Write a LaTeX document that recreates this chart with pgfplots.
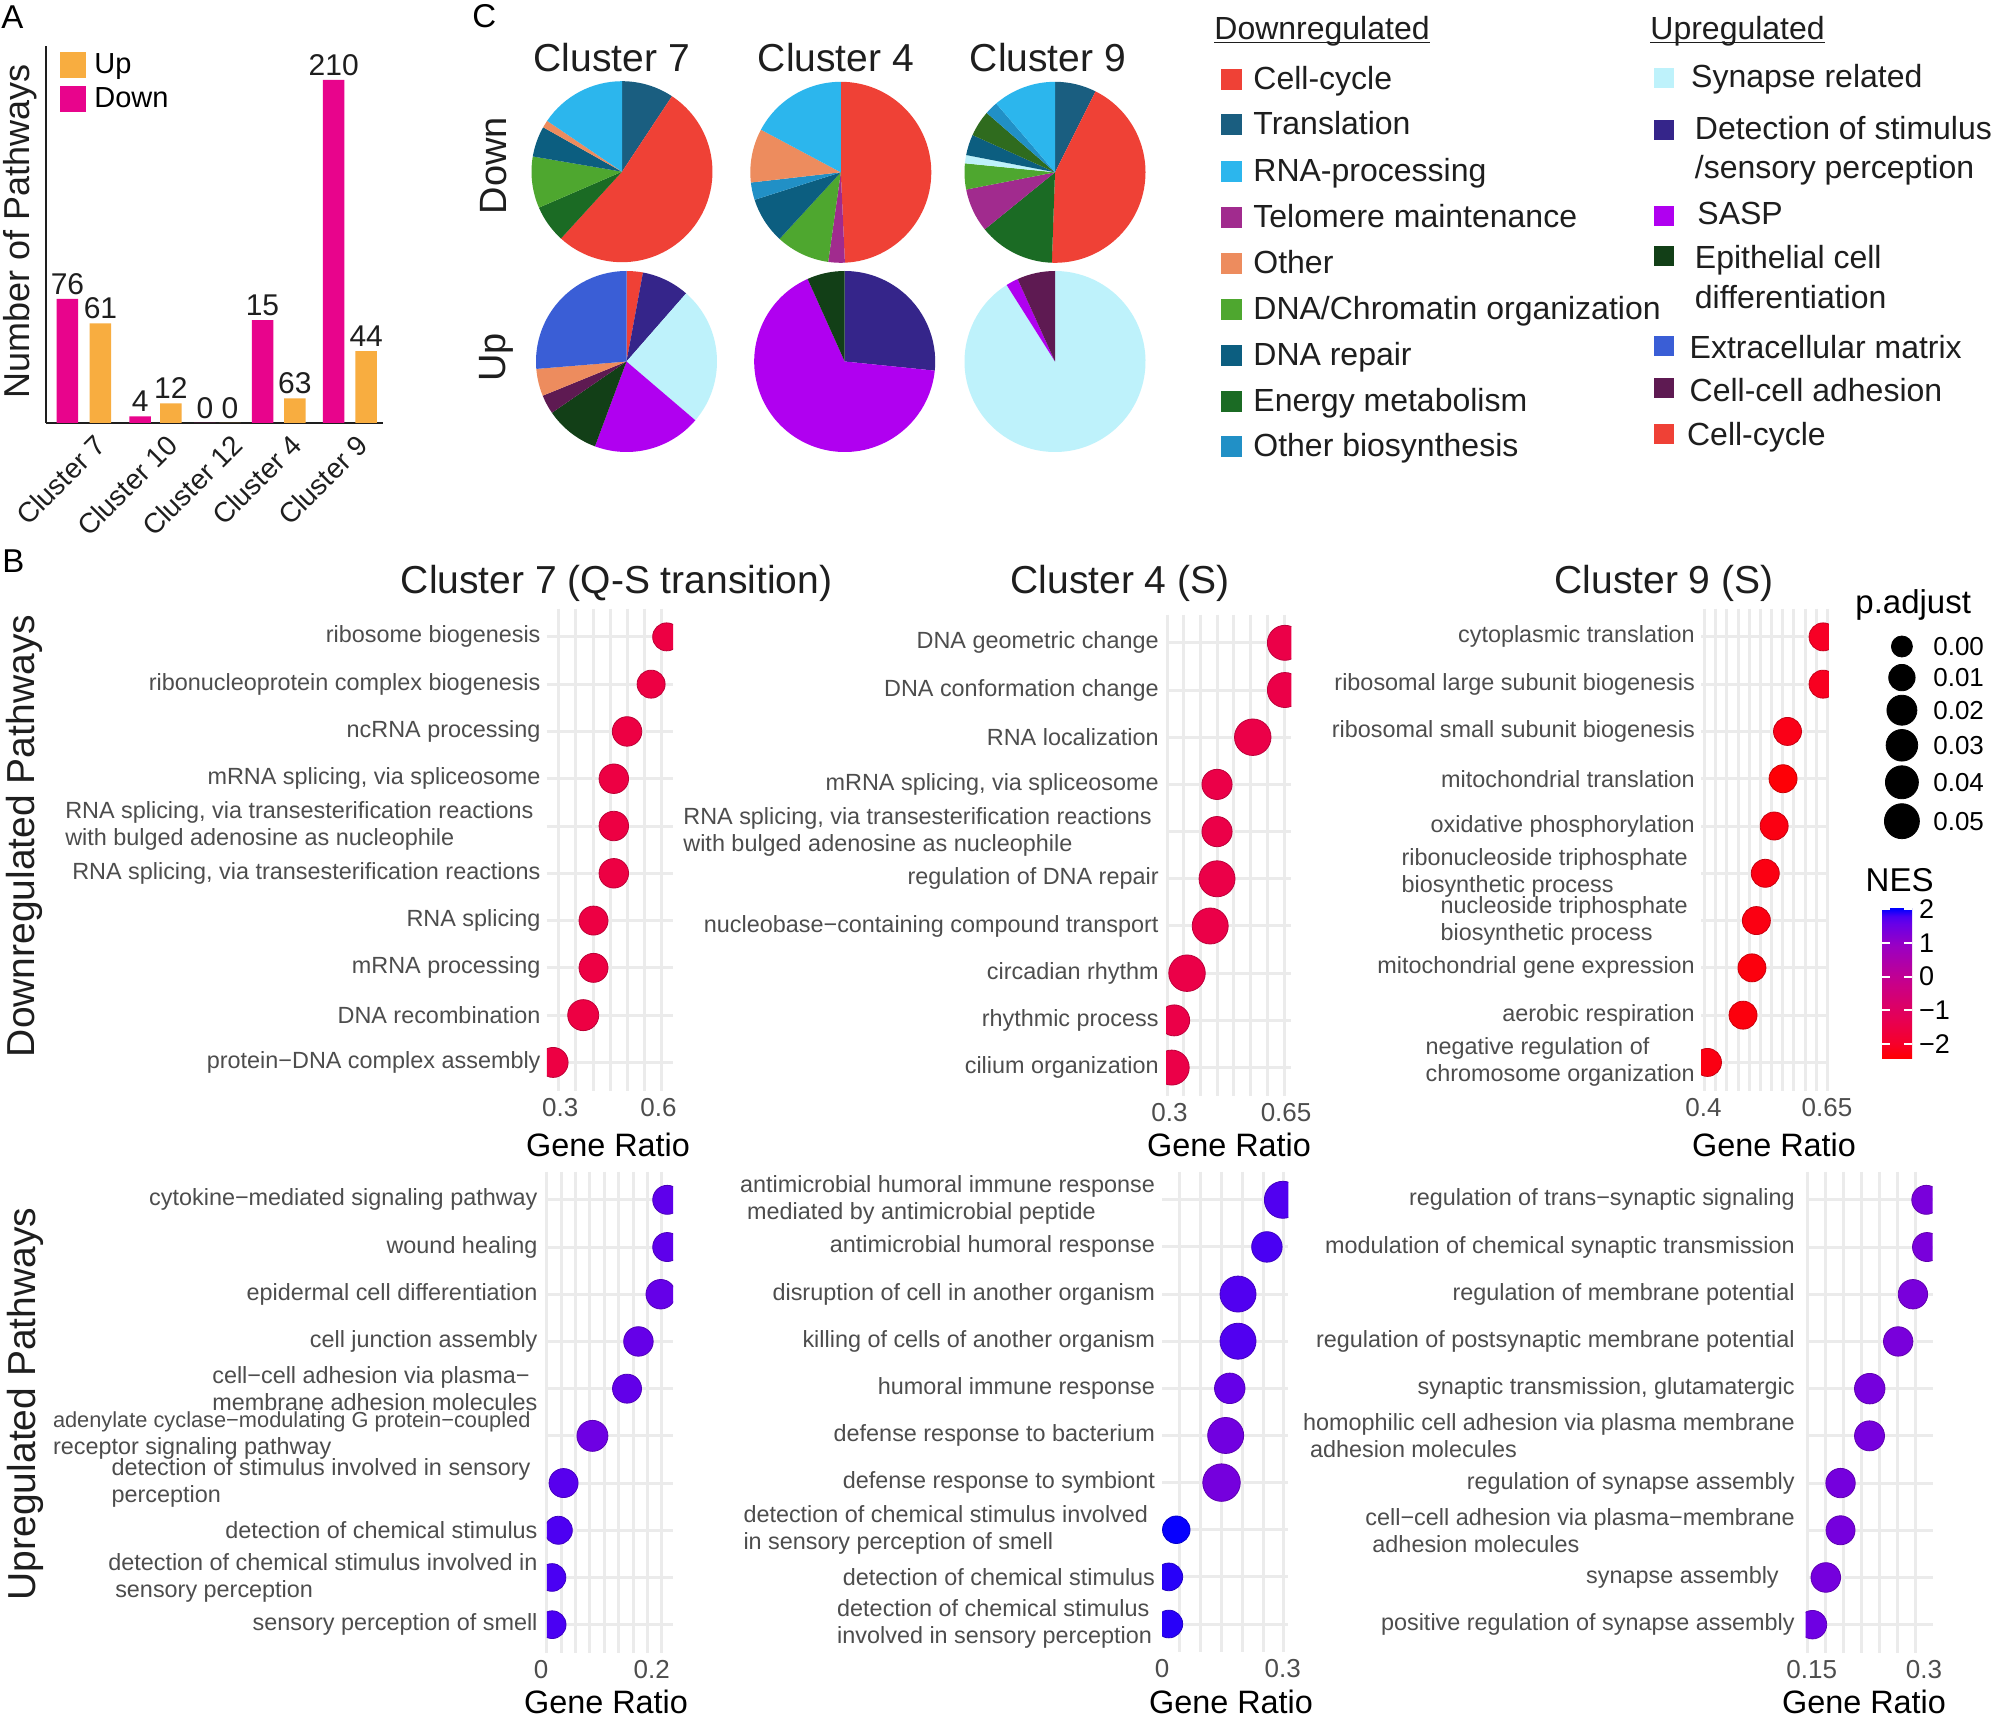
\documentclass[border=0pt]{standalone}
\usepackage{fontspec}
\setmainfont{Liberation Sans}
\usepackage{pgfplots}
\pgfplotsset{compat=1.18}
\usepackage{pgfplotstable}

\definecolor{barpink}{RGB}{232,4,140}
\definecolor{barorange}{RGB}{248,173,64}
\definecolor{gridc}{RGB}{235,235,235}
\definecolor{labc}{RGB}{77,77,77}
\definecolor{txt}{RGB}{30,30,30}
\definecolor{sCC}{RGB}{239,65,54}
\definecolor{sTR}{RGB}{26,94,128}
\definecolor{sRNA}{RGB}{44,182,237}
\definecolor{sTEL}{RGB}{161,43,142}
\definecolor{sOTH}{RGB}{237,140,94}
\definecolor{sCHR}{RGB}{78,167,47}
\definecolor{sREP}{RGB}{12,94,128}
\definecolor{sEN}{RGB}{27,107,36}
\definecolor{sOB}{RGB}{33,144,198}
\definecolor{sSYN}{RGB}{190,242,251}
\definecolor{sDET}{RGB}{53,37,138}
\definecolor{sSASP}{RGB}{176,0,240}
\definecolor{sEPI}{RGB}{18,63,23}
\definecolor{sECM}{RGB}{58,94,214}
\definecolor{sCCA}{RGB}{94,26,82}
\definecolor{sOLV}{RGB}{47,107,30}

\newcommand\fsz[2]{\fontsize{#1}{#2}\selectfont}
\newcommand\ul[1]{\setbox0\hbox{#1}\rlap{\rule[-2.1pt]{\wd0}{0.85pt}}#1}

\pgfdeclareplotmark{pieslice}{%
  \pgfmathsetmacro\sliceS{90-\sliceB}%
  \pgfmathsetmacro\sliceE{90-\sliceA}%
  \pgfsetfillcolor{\sliceC}%
  \pgfpathmoveto{\pgfpointorigin}%
  \pgfpathlineto{\pgfpointpolar{\sliceS}{\pgfplotmarksize}}%
  \pgfpatharc{\sliceS}{\sliceE}{\pgfplotmarksize}%
  \pgfpathclose
  \pgfusepathqfill
}

\pgfdeclareverticalshading{nesshade}{100bp}{rgb(0bp)=(1,0,0); rgb(25bp)=(1,0,0); rgb(30bp)=(0.965,0,0.165); rgb(37.5bp)=(0.91,0,0.314); rgb(50bp)=(0.788,0,0.533); rgb(62.5bp)=(0.608,0,0.761); rgb(70bp)=(0.408,0,0.906); rgb(72.5bp)=(0.294,0,0.953); rgb(75bp)=(0,0,1); rgb(100bp)=(0,0,1)}

\pgfplotsset{
  colormap={nes}{rgb255(0pt)=(255,0,0) rgb255(2pt)=(246,0,42) rgb255(5pt)=(232,0,80) rgb255(10pt)=(201,0,136) rgb255(15pt)=(155,0,194) rgb255(18pt)=(104,0,231) rgb255(19pt)=(75,0,243) rgb255(20pt)=(0,0,255)},
  dotax/.style={
    scale only axis, anchor=north west, y dir=reverse, ymin=0.4, ymax=10.6, ytick={1,...,10},
    enlargelimits=false,
    axis line style={draw=none},
    major tick length=0pt, minor tick length=0pt,
    ymajorgrids=true, xminorgrids=true, xmajorgrids=false,
    minor grid style={gridc, line width=1.5pt},
    major grid style={gridc, line width=1.5pt},
    yticklabel style={font=\fsz{11.7}{13.5}, text=labc, align=left, inner xsep=3pt},
    xticklabel style={font=\fsz{13}{15}, text=labc},
    colormap name=nes, point meta min=-2.44, point meta max=2.02,
    clip marker paths=true,
  },
  dotpts/.style={scatter, only marks, mark=*, point meta=explicit,
    visualization depends on={\thisrow{d}/4 \as \msz},
    scatter/@pre marker code/.append style={/tikz/mark size=\msz}},
  szleg/.style={only marks, mark=*, black, nodes near coords={#1},
    every node near coord/.style={anchor=west, inner sep=0pt, xshift=15.5pt, font=\fsz{13}{15}, text=black}},
}

\begin{document}
\begin{tikzpicture}[x=0.5pt,y=-0.5pt]
\path[use as bounding box] (0,0) rectangle (1999,1716);
\fill[white] (0,0) rectangle (1999,1716);

% ================= Panel A =================
\begin{axis}[at={(22.85pt,-211.45pt)}, anchor=south west, scale only axis,
  width=168.65pt, height=188.55pt,
  xmin=45.7, xmax=383, ymin=0, ymax=230.9,
  axis x line*=bottom, axis y line*=left,
  axis line style={-, line width=0.9pt, txt},
  ytick=\empty, xtick={86,158,223,282,348},
  xticklabels={Cluster 7,Cluster 10,Cluster 12,Cluster 4,Cluster 9},
  xticklabel style={rotate=45, anchor=north east, inner sep=1pt, yshift=-5pt, font=\fsz{14}{16}, text=txt},
  major tick length=0pt,
  ybar, bar shift=0pt, bar width=21.5,
  nodes near coords, point meta=explicit symbolic,
  every node near coord/.append style={font=\fsz{15}{17}, text=txt, inner sep=2pt},
  clip=false,
  reverse legend,
  legend style={at={(0.0424,0.9915)}, anchor=north west, draw=none, fill=none,
    font=\fsz{14.5}{17}, row sep=1.5pt, inner sep=0pt, column sep=2pt},
  legend cell align=left,
  legend image code/.code={\draw[#1,/tikz/.cd,draw=none] (0pt,-6.5pt) rectangle (13pt,6.5pt);},
]
\addplot[fill=barpink, draw=none] coordinates {(67.5,76)[76] (140.2,4)[4] (205,0)[0] (262.5,63)[15] (333.7,210)[210]};
\addlegendentry{Down}
\addplot[fill=barorange, draw=none] coordinates {(100.5,61)[61] (170.8,12)[12] (230,0)[0] (294.8,15)[63] (366.2,44)[44]};
\addlegendentry{Up}
\end{axis}
\node[rotate=90, anchor=base, font=\fsz{18}{20}, text=txt] at (30,231.6) {Number of Pathways};
\node[anchor=base west, inner sep=0pt, font=\fsz{16.5}{18}] at (1,29) {A};

% ================= Panel C : pies =================
\node[anchor=base west, inner sep=0pt, font=\fsz{16.5}{18}] at (472,28) {C};
\begin{axis}[at={(250pt,-20pt)}, anchor=north west, scale only axis, width=330pt, height=215pt,
  xmin=500, xmax=1160, ymin=40, ymax=470, y dir=reverse, hide axis, clip=false]
\addplot[scatter, only marks, mark=pieslice, mark size=45.25pt, point meta=x,
  visualization depends on={\thisrow{a}\as\sliceA},
  visualization depends on={\thisrow{b}\as\sliceB},
  visualization depends on={value \thisrow{c}\as\sliceC}]
 table[x=cx, y=cy]{
cx cy a b c
622 171.7 0 33.5 sTR
622 171.7 33.5 222.4 sCC
622 171.7 222.4 246.6 sEN
622 171.7 246.6 279.7 sCHR
622 171.7 279.7 299.4 sREP
622 171.7 299.4 304.2 sOTH
622 171.7 304.2 360 sRNA
840.8 172.3 0 177.4 sCC
840.8 172.3 177.4 188 sTEL
840.8 172.3 188 222.6 sCHR
840.8 172.3 222.6 252.3 sREP
840.8 172.3 252.3 263.5 sOB
840.8 172.3 263.5 298.1 sOTH
840.8 172.3 298.1 360 sRNA
1055 172.3 0 26.6 sTR
1055 172.3 26.6 182 sCC
1055 172.3 182 230.9 sEN
1055 172.3 230.9 259 sTEL
1055 172.3 259 275.7 sCHR
1055 172.3 275.7 281 sSYN
1055 172.3 281 294.3 sREP
1055 172.3 294.3 311 sOLV
1055 172.3 311 319.5 sOB
1055 172.3 319.5 360 sRNA
626.5 361.5 0 10.5 sCC
626.5 361.5 10.5 41.2 sDET
626.5 361.5 41.2 130.5 sSYN
626.5 361.5 130.5 200.4 sSASP
626.5 361.5 200.4 235.5 sEPI
626.5 361.5 235.5 247.8 sCCA
626.5 361.5 247.8 265.3 sOTH
626.5 361.5 265.3 360 sECM
844.7 361.5 0 95.8 sDET
844.7 361.5 95.8 335.8 sSASP
844.7 361.5 335.8 360 sEPI
1055 361.5 0 327.7 sSYN
1055 361.5 327.7 335.6 sSASP
1055 361.5 335.6 360 sCCA
};
\end{axis}
\node[anchor=base, font=\fsz{19.5}{22}, text=txt] at (611.8,71.7) {Cluster 7};
\node[anchor=base, font=\fsz{19.5}{22}, text=txt] at (836,71.7) {Cluster 4};
\node[anchor=base, font=\fsz{19.5}{22}, text=txt] at (1048,71.7) {Cluster 9};
\node[rotate=90, anchor=base, font=\fsz{19}{21}, text=txt] at (506,165.8) {Down};
\node[rotate=90, anchor=base, font=\fsz{19}{21}, text=txt] at (505,357.5) {Up};

% legend of panel C
\begin{scope}[every node/.style={font=\fsz{16}{18}, text=txt}]
\node[anchor=base west, inner sep=0pt] at (1214,39.3) {\ul{Downregulated}};
\node[anchor=base west, inner sep=0pt] at (1650,39.3) {\ul{Upregulated}};
\foreach \yy/\cc/\tt in {79.3/sCC/Cell-cycle, 125/sTR/Translation, 171.3/sRNA/RNA-processing, 217.5/sTEL/Telomere maintenance, 263.3/sOTH/Other, 309.3/sCHR/DNA\slash Chromatin organization, 355.3/sREP/DNA repair, 401.2/sEN/Energy metabolism, 447/sOB/Other biosynthesis}{
  \node[fill=\cc, minimum size=10.5pt, inner sep=0pt] at (1231.2,\yy) {};
  \node[anchor=base west, inner sep=0pt] at (1253,\yy+10) {\tt};
}
\foreach \yy/\cc in {77.8/sSYN, 129.7/sDET, 216.2/sSASP, 256.2/sEPI, 346.3/sECM, 388/sCCA, 433.7/sCC}{
  \node[fill=\cc, minimum size=10pt, inner sep=0pt] at (1663.7,\yy) {};
}
\node[anchor=base west, inner sep=0pt] at (1690.8,87.3) {Synapse related};
\node[anchor=base west, inner sep=0pt] at (1694.5,139.3) {Detection of stimulus};
\node[anchor=base west, inner sep=0pt] at (1694.5,178.3) {/sensory perception};
\node[anchor=base west, inner sep=0pt] at (1697,225) {SASP};
\node[anchor=base west, inner sep=0pt] at (1694.5,268.3) {Epithelial cell};
\node[anchor=base west, inner sep=0pt] at (1694.5,308.3) {differentiation};
\node[anchor=base west, inner sep=0pt] at (1689.3,358.3) {Extracellular matrix};
\node[anchor=base west, inner sep=0pt] at (1689.3,401.7) {Cell-cell adhesion};
\node[anchor=base west, inner sep=0pt] at (1686.7,446) {Cell-cycle};
\end{scope}

% ================= Panel B =================
\node[anchor=base west, inner sep=0pt, font=\fsz{16.5}{18}] at (2,573) {B};
\node[anchor=base, font=\fsz{19.5}{22}, text=txt] at (616.5,593.6) {Cluster 7 (Q-S transition)};
\node[anchor=base, font=\fsz{19.5}{22}, text=txt] at (1120,593.6) {Cluster 4 (S)};
\node[anchor=base, font=\fsz{19.5}{22}, text=txt] at (1664,593.6) {Cluster 9 (S)};
\node[rotate=90, anchor=base, font=\fsz{19.5}{22}, text=txt] at (34,836) {Downregulated Pathways};
\node[rotate=90, anchor=base, font=\fsz{19.5}{22}, text=txt] at (35,1404) {Upregulated Pathways};
\foreach \gx/\gy in {608/1156, 1229/1156, 1774/1156, 606/1713, 1231/1713, 1864/1713}{
  \node[anchor=base, font=\fsz{16.2}{18}, text=black] at (\gx,\gy) {Gene Ratio};
}

% Cluster 7 down
\begin{axis}[dotax, at={(273.45pt,-304.25pt)}, width=63.15pt, height=241.15pt,
  xmin=0.259, xmax=0.645, xtick={0.3,0.6}, xticklabels={0.3,0.6},
  minor xtick={0.2957,0.3478,0.3999,0.452,0.5041,0.5562,0.6083},
  yticklabels={{ribosome biogenesis},{ribonucleoprotein complex biogenesis},{ncRNA processing},{mRNA splicing, via spliceosome},{RNA splicing, via transesterification reactions\hspace*{3.5pt}\\with bulged adenosine as nucleophile},{RNA splicing, via transesterification reactions},{RNA splicing},{mRNA processing},{DNA recombination},{protein−DNA complex assembly}}]
\addplot[dotpts] table[x=x, y=r, meta=nes]{
r x d nes
1 0.625 28 -1.55
2 0.5775 28 -1.55
3 0.504 29.5 -1.55
4 0.4635 29.5 -1.55
5 0.4635 29.5 -1.55
6 0.4635 29.5 -1.55
7 0.4015 29 -1.55
8 0.4015 29 -1.55
9 0.370 31 -1.55
10 0.278 30 -1.55
};
\end{axis}

% Cluster 4 down
\begin{axis}[dotax, at={(583pt,-307.25pt)}, width=62.7pt, height=240.7pt,
  xmin=0.2895, xmax=0.666, xtick={0.3,0.65}, xticklabels={0.3,0.65},
  minor xtick={0.2934,0.3435,0.3935,0.4436,0.4936,0.5437,0.5938,0.6438},
  yticklabel style={inner xsep=3.5pt},
  yticklabels={{DNA geometric change},{DNA conformation change},{RNA localization},{mRNA splicing, via spliceosome},{RNA splicing, via transesterification reactions\hspace*{3.5pt}\\with bulged adenosine as nucleophile},{regulation of DNA repair},{nucleobase−containing compound transport},{circadian rhythm},{rhythmic process},{cilium organization}}]
\addplot[dotpts] table[x=x, y=r, meta=nes]{
r x d nes
1 0.6464 35 -1.46
2 0.6464 35 -1.46
3 0.550 36.5 -1.46
4 0.4427 30.2 -1.46
5 0.4427 30.2 -1.46
6 0.4427 36 -1.46
7 0.4222 36 -1.46
8 0.3526 36.5 -1.46
9 0.314 31 -1.46
10 0.3066 35 -1.46
};
\end{axis}

% Cluster 9 down
\begin{axis}[dotax, at={(850.6pt,-304.25pt)}, width=63.8pt, height=241.15pt,
  xmin=0.3953, xmax=0.6536, xtick={0.4,0.65}, xticklabels={0.4,0.65},
  minor xtick={0.4018,0.4245,0.4471,0.4698,0.4924,0.5151,0.5377,0.5604,0.583,0.6057,0.6283,0.651},
  yticklabels={{cytoplasmic translation},{ribosomal large subunit biogenesis},{ribosomal small subunit biogenesis},{mitochondrial translation},{oxidative phosphorylation},{ribonucleoside triphosphate\hspace*{3.5pt}\\biosynthetic process},{nucleoside triphosphate\hspace*{3.5pt}\\biosynthetic process},{mitochondrial gene expression},{aerobic respiration},{negative regulation of\\chromosome organization}}]
\addplot[dotpts] table[x=x, y=r, meta=nes]{
r x d nes
1 0.642 28 -2.05
2 0.642 28 -2.1
3 0.570 28 -2.2
4 0.561 28 -2.38
5 0.543 28 -2.25
6 0.525 28 -2.25
7 0.507 28 -2.25
8 0.498 28 -2.3
9 0.480 28 -2.3
10 0.408 28 -2.25
};
\end{axis}

% Cluster 7 up
\begin{axis}[dotax, at={(273.45pt,-585.75pt)}, width=63.15pt, height=240.75pt,
  xmin=0.01066, xmax=0.2388, xtick={0.011,0.2}, xticklabels={0\hspace*{6pt},0.2},
  minor xtick={0.0107,0.0363,0.0623,0.0883,0.1143,0.1403,0.1663,0.1923,0.2183},
  yticklabel style={inner xsep=4.5pt},
  yticklabels={{cytokine−mediated signaling pathway},{wound healing},{epidermal cell differentiation},{cell junction assembly},{cell−cell adhesion via plasma−\\membrane adhesion molecules},{\fsz{10.9}{12.6}adenylate cyclase−modulating G protein−coupled\hspace*{3.5pt}\\receptor signaling pathway},{detection of stimulus involved in sensory\hspace*{3.5pt}\\perception},{detection of chemical stimulus},{detection of chemical stimulus involved in\\\hspace*{3.5pt}sensory perception},{sensory perception of smell}}]
\addplot[dotpts] table[x=x, y=r, meta=nes]{
r x d nes
1 0.228 29 1.65
2 0.228 29 1.65
3 0.2163 29.5 1.6
4 0.176 29.5 1.6
5 0.1554 29 1.62
6 0.0929 31 1.5
7 0.0408 29 1.7
8 0.0313 28 1.78
9 0.0199 27.7 1.8
10 0.0202 27.7 1.8
};
\end{axis}

% Cluster 4 up
\begin{axis}[dotax, at={(581pt,-585.75pt)}, width=63.15pt, height=240.4pt,
  xmin=0, xmax=0.314, xtick={0,0.3}, xticklabels={0,0.3},
  minor xtick={0.0447,0.0964,0.1481,0.1998,0.2515,0.3032},
  yticklabel style={inner xsep=3.3pt},
  yticklabels={{antimicrobial humoral immune response\\\hspace*{3.5pt}mediated by antimicrobial peptide},{antimicrobial humoral response},{disruption of cell in another organism},{killing of cells of another organism},{humoral immune response},{defense response to bacterium},{defense response to symbiont},{detection of chemical stimulus involved\hspace*{3.5pt}\\in sensory perception of smell},{detection of chemical stimulus},{detection of chemical stimulus\\involved in sensory perception\hspace*{1.5pt}}}]
\addplot[dotpts] table[x=x, y=r, meta=nes]{
r x d nes
1 0.3005 37 1.75
2 0.2608 30.5 1.8
3 0.189 36 1.75
4 0.189 36 1.75
5 0.1685 30.5 1.6
6 0.1583 36 1.45
7 0.148 37.5 1.4
8 0.0355 27.5 2.0
9 0.017 27.7 1.9
10 0.017 27.7 1.9
};
\end{axis}

% Cluster 9 up
\begin{axis}[dotax, at={(902.75pt,-585.75pt)}, width=63.6pt, height=240.75pt,
  xmin=0.1417, xmax=0.3116, xtick={0.15,0.3}, xticklabels={0.15,0.3},
  minor xtick={0.1441,0.1683,0.1925,0.2166,0.2408,0.265,0.2892},
  yticklabel style={inner xsep=5.2pt},
  yticklabels={{regulation of trans−synaptic signaling},{modulation of chemical synaptic transmission},{regulation of membrane potential},{regulation of postsynaptic membrane potential},{synaptic transmission, glutamatergic},{homophilic cell adhesion via plasma membrane\\\hspace*{3.5pt}adhesion molecules},{regulation of synapse assembly},{cell−cell adhesion via plasma−membrane\\\hspace*{3.5pt}adhesion molecules},{synapse assembly\hspace*{8pt}},{positive regulation of synapse assembly}}]
\addplot[dotpts] table[x=x, y=r, meta=nes]{
r x d nes
1 0.303 29 1.35
2 0.304 29 1.35
3 0.2852 29.4 1.35
4 0.2655 29.4 1.35
5 0.2275 30.5 1.4
6 0.2272 30 1.4
7 0.1885 29.4 1.4
8 0.1885 29 1.4
9 0.1688 29.6 1.4
10 0.151 28.5 1.5
};
\end{axis}

% p.adjust size legend
\node[anchor=base west, inner sep=0pt, font=\fsz{16.5}{18}, text=black] at (1855,614) {p.adjust};
\begin{axis}[at={(935pt,-310pt)}, anchor=north west, scale only axis, width=32.5pt, height=110pt,
  xmin=1870, xmax=1935, ymin=620, ymax=840, y dir=reverse, hide axis, clip=false]
\addplot[szleg={0.00}, mark size=5.25pt] coordinates {(1901.9,646.5)};
\addplot[szleg={0.01}, mark size=6.6pt] coordinates {(1901.9,677.6)};
\addplot[szleg={0.02}, mark size=7.5pt] coordinates {(1901.9,710.2)};
\addplot[szleg={0.03}, mark size=7.9pt] coordinates {(1901.9,745.3)};
\addplot[szleg={0.04}, mark size=8.25pt] coordinates {(1901.9,782.3)};
\addplot[szleg={0.05}, mark size=8.75pt] coordinates {(1901.9,821.2)};
\end{axis}

% NES colour bar
\node[anchor=base west, inner sep=0pt, font=\fsz{16.5}{18}, text=black] at (1865.3,891.5) {NES};
\begin{axis}[at={(941pt,-529.35pt)}, anchor=south west, scale only axis, width=15pt, height=75pt,
  xmin=0, xmax=1, ymin=-2.44, ymax=2.02, xtick=\empty,
  ytick={-2,-1,0,1,2}, yticklabels={−2,−1,0,1,2},
  ytick pos=both, yticklabel pos=right, tick align=inside, major tick length=4pt,
  ytick style={white, line width=0.9pt}, axis line style={draw=none}, axis on top,
  yticklabel style={font=\fsz{13.5}{15}, text=black}]
\shade[shading=nesshade] (rel axis cs:0,0) rectangle (rel axis cs:1,1);
\end{axis}

\end{tikzpicture}
\end{document}
